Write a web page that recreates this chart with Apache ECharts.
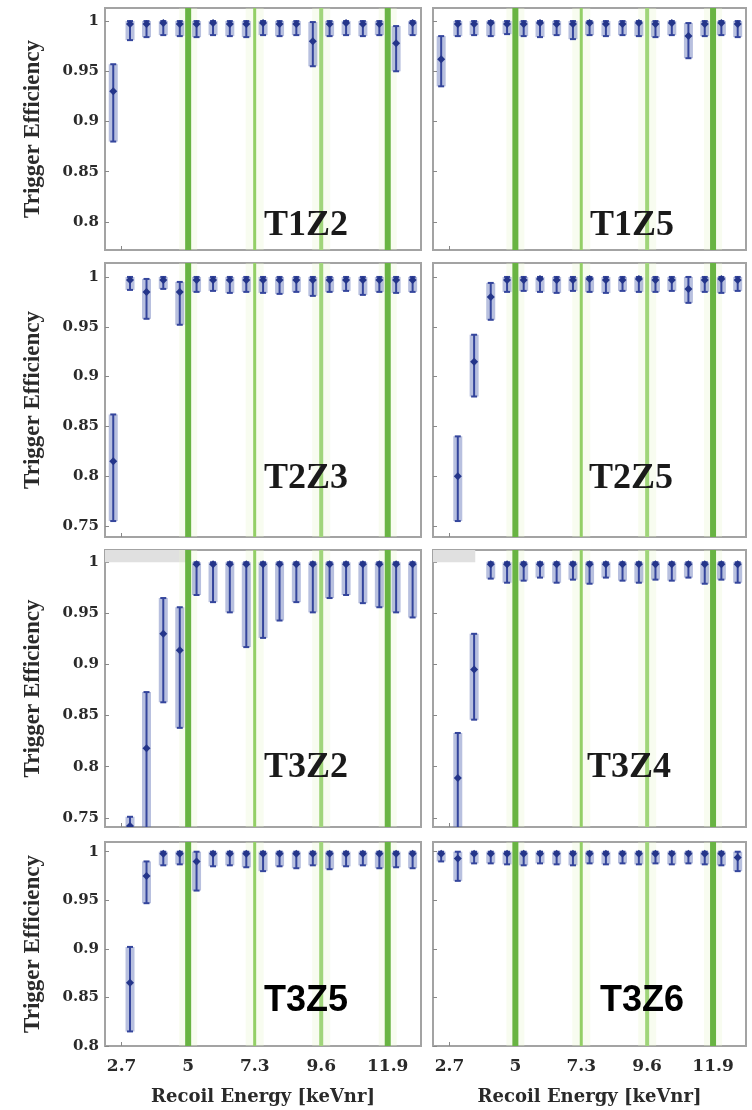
<!DOCTYPE html>
<html>
<head>
<meta charset="utf-8">
<script src="https://cdn.jsdelivr.net/npm/echarts@6.0.0/dist/echarts.min.js"></script>
<style>
  html, body { margin: 0; padding: 0; background: #ffffff; }
  #chart { width: 752px; height: 1110px; }
</style>
</head>
<body>
<div id="chart"></div>
<script>
// Recoil-energy bin centres [keVnr]
const energies = [2.41, 2.99, 3.56, 4.14, 4.71, 5.29, 5.86, 6.44, 7.01, 7.59, 8.16, 8.74, 9.31, 9.89, 10.46, 11.04, 11.61, 12.19, 12.76];

// Energy ticks and the vertical reference lines
const energyTicks = [2.7, 5, 7.3, 9.6, 11.9];
const energyTickLabels = ['2.7', '5', '7.3', '9.6', '11.9'];
const referenceLines = [5, 7.3, 9.6, 11.9];

// Efficiency tick values
const effTicksUpper = [0.8, 0.85, 0.9, 0.95, 1];
const effTicksLower = [0.75, 0.8, 0.85, 0.9, 0.95, 1];
const effTickLabels = { 0.75: '0.75', 0.8: '0.8', 0.85: '0.85', 0.9: '0.9', 0.95: '0.95', 1: '1' };

// Detector names
const detectors = ['T1Z2', 'T1Z5', 'T2Z3', 'T2Z5', 'T3Z2', 'T3Z4', 'T3Z5', 'T3Z6'];

// Trigger efficiency per bin, with lower / upper error limits
const effT1Z2 = [0.930, 0.997, 0.997, 0.998, 0.997, 0.997, 0.998, 0.997, 0.997, 0.998, 0.997, 0.997, 0.980, 0.997, 0.998, 0.997, 0.997, 0.978, 0.998];
const lowT1Z2 = [0.880, 0.981, 0.984, 0.986, 0.985, 0.984, 0.986, 0.985, 0.984, 0.986, 0.985, 0.986, 0.955, 0.985, 0.986, 0.985, 0.986, 0.950, 0.986];
const highT1Z2 = [0.957, 1, 1, 1, 1, 1, 1, 1, 1, 1, 1, 1, 0.999, 1, 1, 1, 1, 0.995, 1];

const effT1Z5 = [0.962, 0.997, 0.997, 0.998, 0.997, 0.997, 0.998, 0.997, 0.997, 0.998, 0.997, 0.997, 0.998, 0.997, 0.998, 0.985, 0.997, 0.998, 0.997];
const lowT1Z5 = [0.935, 0.985, 0.986, 0.985, 0.987, 0.985, 0.984, 0.986, 0.982, 0.986, 0.985, 0.986, 0.985, 0.984, 0.986, 0.963, 0.985, 0.986, 0.984];
const highT1Z5 = [0.985, 1, 1, 1, 1, 1, 1, 1, 1, 1, 1, 1, 1, 1, 1, 0.998, 1, 1, 1];

const effT2Z3 = [0.815, 0.997, 0.985, 0.997, 0.985, 0.997, 0.997, 0.997, 0.997, 0.997, 0.997, 0.997, 0.997, 0.997, 0.997, 0.997, 0.997, 0.997, 0.997];
const lowT2Z3 = [0.755, 0.987, 0.958, 0.988, 0.952, 0.985, 0.986, 0.984, 0.985, 0.984, 0.983, 0.985, 0.981, 0.985, 0.986, 0.982, 0.985, 0.984, 0.985];
const highT2Z3 = [0.862, 1, 0.998, 1, 0.995, 1, 1, 1, 1, 1, 1, 1, 1, 1, 1, 1, 1, 1, 1];

const effT2Z5 = [null, 0.800, 0.915, 0.980, 0.997, 0.997, 0.998, 0.997, 0.997, 0.998, 0.997, 0.997, 0.998, 0.997, 0.997, 0.988, 0.997, 0.998, 0.997];
const lowT2Z5 = [null, 0.755, 0.880, 0.957, 0.985, 0.986, 0.985, 0.984, 0.986, 0.985, 0.984, 0.986, 0.985, 0.985, 0.986, 0.974, 0.985, 0.984, 0.986];
const highT2Z5 = [null, 0.840, 0.942, 0.994, 1, 1, 1, 1, 1, 1, 1, 1, 1, 1, 1, 1, 1, 1, 1];

const effT3Z2 = [null, 0.742, 0.818, 0.930, 0.914, 0.998, 0.998, 0.998, 0.998, 0.998, 0.998, 0.998, 0.998, 0.998, 0.998, 0.998, 0.998, 0.998, 0.998];
const lowT3Z2 = [null, 0.700, 0.700, 0.863, 0.838, 0.968, 0.961, 0.951, 0.917, 0.926, 0.943, 0.961, 0.951, 0.965, 0.968, 0.960, 0.956, 0.951, 0.946];
const highT3Z2 = [null, 0.751, 0.873, 0.965, 0.956, 1, 1, 1, 1, 1, 1, 1, 1, 1, 1, 1, 1, 1, 1];

const effT3Z4 = [null, 0.789, 0.895, 0.998, 0.998, 0.998, 0.998, 0.998, 0.998, 0.998, 0.998, 0.998, 0.998, 0.998, 0.998, 0.998, 0.998, 0.998, 0.998];
const lowT3Z4 = [null, 0.700, 0.846, 0.984, 0.980, 0.982, 0.985, 0.980, 0.983, 0.979, 0.985, 0.982, 0.980, 0.983, 0.982, 0.985, 0.979, 0.983, 0.980];
const highT3Z4 = [null, 0.833, 0.930, 1, 1, 1, 1, 1, 1, 1, 1, 1, 1, 1, 1, 1, 1, 1, 1];

const effT3Z5 = [null, 0.865, 0.975, 0.998, 0.998, 0.990, 0.998, 0.998, 0.998, 0.998, 0.998, 0.998, 0.998, 0.998, 0.998, 0.998, 0.998, 0.998, 0.998];
const lowT3Z5 = [null, 0.815, 0.947, 0.986, 0.987, 0.960, 0.985, 0.986, 0.984, 0.980, 0.985, 0.983, 0.986, 0.982, 0.985, 0.986, 0.983, 0.984, 0.983];
const highT3Z5 = [null, 0.902, 0.990, 1, 1, 1, 1, 1, 1, 1, 1, 1, 1, 1, 1, 1, 1, 1, 1];

const effT3Z6 = [0.998, 0.993, 0.998, 0.998, 0.998, 0.998, 0.998, 0.998, 0.998, 0.998, 0.998, 0.998, 0.998, 0.998, 0.998, 0.998, 0.998, 0.998, 0.994];
const lowT3Z6 = [0.990, 0.970, 0.988, 0.988, 0.987, 0.986, 0.988, 0.987, 0.986, 0.988, 0.987, 0.988, 0.987, 0.988, 0.987, 0.988, 0.987, 0.986, 0.980];
const highT3Z6 = [1, 1, 1, 1, 1, 1, 1, 1, 1, 1, 1, 1, 1, 1, 1, 1, 1, 1, 1];

// Grey shaded band above 100 % (detector name -> upper energy of band)
const saturatedBandEnd = { T3Z2: 5.0, T3Z4: 3.6 };

const panelData = {
  T1Z2: [effT1Z2, lowT1Z2, highT1Z2],
  T1Z5: [effT1Z5, lowT1Z5, highT1Z5],
  T2Z3: [effT2Z3, lowT2Z3, highT2Z3],
  T2Z5: [effT2Z5, lowT2Z5, highT2Z5],
  T3Z2: [effT3Z2, lowT3Z2, highT3Z2],
  T3Z4: [effT3Z4, lowT3Z4, highT3Z4],
  T3Z5: [effT3Z5, lowT3Z5, highT3Z5],
  T3Z6: [effT3Z6, lowT3Z6, highT3Z6]
};

// ---- layout ----
const X_MIN = 2.125, X_MAX = 13.05;
const colLeft = [105, 433];
const colWidth = [316, 313];
const rows = [
  { top: 8,   height: 242, min: 0.772, max: 1.013, ticks: effTicksUpper },
  { top: 263, height: 274, min: 0.739, max: 1.014, ticks: effTicksLower },
  { top: 550, height: 277, min: 0.741, max: 1.012, ticks: effTicksLower },
  { top: 842, height: 204, min: 0.800, max: 1.010, ticks: effTicksUpper }
];
const labelPos = [
  [306, 226], [632, 226],
  [306, 479], [631, 479],
  [306, 768], [629, 768],
  [306, 1001], [642, 1001]
];

const serifBold = 'Liberation Serif';
const tickFont = 'DejaVu Serif';
const refStyles = [
  { w: 6, c: '#69b443' },
  { w: 3, c: '#93cf66' },
  { w: 4, c: '#a0d57a' },
  { w: 6, c: '#69b443' }
];

const grids = [], xAxes = [], yAxes = [], series = [], graphics = [];

detectors.forEach(function (name, i) {
  const col = i % 2, row = Math.floor(i / 2);
  const r = rows[row];
  const bottomRow = row === rows.length - 1;
  grids.push({
    left: colLeft[col], top: r.top, width: colWidth[col], height: r.height,
    show: true, borderColor: '#a3a3a3', borderWidth: 2, backgroundColor: '#ffffff'
  });
  xAxes.push({
    type: 'value', gridIndex: i, min: X_MIN, max: X_MAX,
    axisLine: { show: false },
    splitLine: { show: false },
    axisTick: { show: true, inside: true, length: 4, customValues: energyTicks, lineStyle: { color: '#888' } },
    axisLabel: {
      show: bottomRow, customValues: energyTicks, margin: 12,
      fontFamily: tickFont, fontWeight: 'bold', fontSize: 17, color: '#2a2a2a',
      formatter: function (v) { return energyTickLabels[energyTicks.indexOf(v)]; }
    },
    name: bottomRow ? 'Recoil Energy [keVnr]' : '',
    nameLocation: 'middle', nameGap: 42,
    nameTextStyle: { fontFamily: tickFont, fontWeight: 'bold', fontSize: 18, color: '#2a2a2a' }
  });
  yAxes.push({
    type: 'value', gridIndex: i, min: r.min, max: r.max,
    axisLine: { show: false },
    splitLine: { show: false },
    axisTick: { show: true, inside: true, length: 4, customValues: r.ticks, lineStyle: { color: '#888' } },
    axisLabel: {
      show: col === 0, customValues: r.ticks, margin: 6,
      fontFamily: tickFont, fontWeight: 'bold', fontSize: 15, color: '#2a2a2a',
      formatter: function (v) { return effTickLabels[v]; }
    },
    name: col === 0 ? 'Trigger Efficiency' : '',
    nameLocation: 'middle', nameGap: 60, nameRotate: 90,
    nameTextStyle: { fontFamily: serifBold, fontWeight: 'bold', fontSize: 23, color: '#2a2a2a' }
  });

  // grey band above full efficiency
  if (saturatedBandEnd[name] !== undefined) {
    series.push({
      type: 'custom', xAxisIndex: i, yAxisIndex: i, silent: true, clip: true, z: 1,
      data: [[X_MIN, 1, saturatedBandEnd[name], r.max]],
      renderItem: function (params, api) {
        const p0 = api.coord([api.value(0), api.value(3)]);
        const p1 = api.coord([api.value(2), api.value(1)]);
        return { type: 'rect', shape: { x: p0[0], y: p0[1], width: p1[0] - p0[0], height: p1[1] - p0[1] },
                 style: { fill: '#e0e0e0' } };
      }
    });
  }

  // vertical reference lines
  series.push({
    type: 'custom', xAxisIndex: i, yAxisIndex: i, silent: true, clip: true, z: 2,
    data: referenceLines.map(function (e, k) { return [e, r.min, r.max, k]; }),
    renderItem: function (params, api) {
      const st = refStyles[api.value(3)];
      const top = api.coord([api.value(0), api.value(2)]);
      const bot = api.coord([api.value(0), api.value(1)]);
      return { type: 'group', children: [
        { type: 'rect', shape: { x: top[0] - 9, y: top[1], width: 18, height: bot[1] - top[1] },
          style: { fill: 'rgba(232,244,204,0.3)' } },
        { type: 'rect', shape: { x: top[0] - st.w / 2, y: top[1], width: st.w, height: bot[1] - top[1] },
          style: { fill: st.c } }
      ] };
    }
  });

  // efficiency points with error bars
  const d = panelData[name];
  const pts = [];
  energies.forEach(function (e, k) {
    if (d[0][k] !== null) pts.push([e, d[0][k], d[1][k], d[2][k]]);
  });
  series.push({
    type: 'custom', xAxisIndex: i, yAxisIndex: i, silent: true, clip: true, z: 5,
    data: pts,
    renderItem: function (params, api) {
      const c = api.coord([api.value(0), api.value(1)]);
      const lo = api.coord([api.value(0), api.value(2)]);
      const hi = api.coord([api.value(0), api.value(3)]);
      const bw = 9, cap = 3, m = 4;
      const stroke = '#34459c';
      return { type: 'group', children: [
        { type: 'rect', shape: { x: c[0] - bw / 2, y: hi[1], width: bw, height: lo[1] - hi[1] },
          style: { fill: 'rgba(98,116,184,0.45)' } },
        { type: 'line', shape: { x1: c[0], y1: hi[1], x2: c[0], y2: lo[1] }, style: { stroke: stroke, lineWidth: 2 } },
        { type: 'line', shape: { x1: c[0] - cap, y1: hi[1], x2: c[0] + cap, y2: hi[1] }, style: { stroke: stroke, lineWidth: 2 } },
        { type: 'line', shape: { x1: c[0] - cap, y1: lo[1], x2: c[0] + cap, y2: lo[1] }, style: { stroke: stroke, lineWidth: 2 } },
        { type: 'polygon', shape: { points: [[c[0], c[1] - m], [c[0] + m, c[1]], [c[0], c[1] + m], [c[0] - m, c[1]]] },
          style: { fill: '#24358a' } }
      ] };
    }
  });

  // detector name
  graphics.push({
    type: 'text', z: 100, x: labelPos[i][0], y: labelPos[i][1],
    style: {
      text: name, x: 0, y: 0, align: 'center', verticalAlign: 'middle',
      font: 'bold 36px ' + (row === 3 ? '"Liberation Sans", Arial, sans-serif' : '"Liberation Serif", "Times New Roman", serif'),
      fill: row === 3 ? '#000000' : '#1a1a1a'
    }
  });
});

const chart = echarts.init(document.getElementById('chart'), null, { renderer: 'canvas' });
chart.setOption({
  animation: false,
  backgroundColor: '#ffffff',
  grid: grids,
  xAxis: xAxes,
  yAxis: yAxes,
  series: series,
  graphic: graphics
});
</script>
</body>
</html>
